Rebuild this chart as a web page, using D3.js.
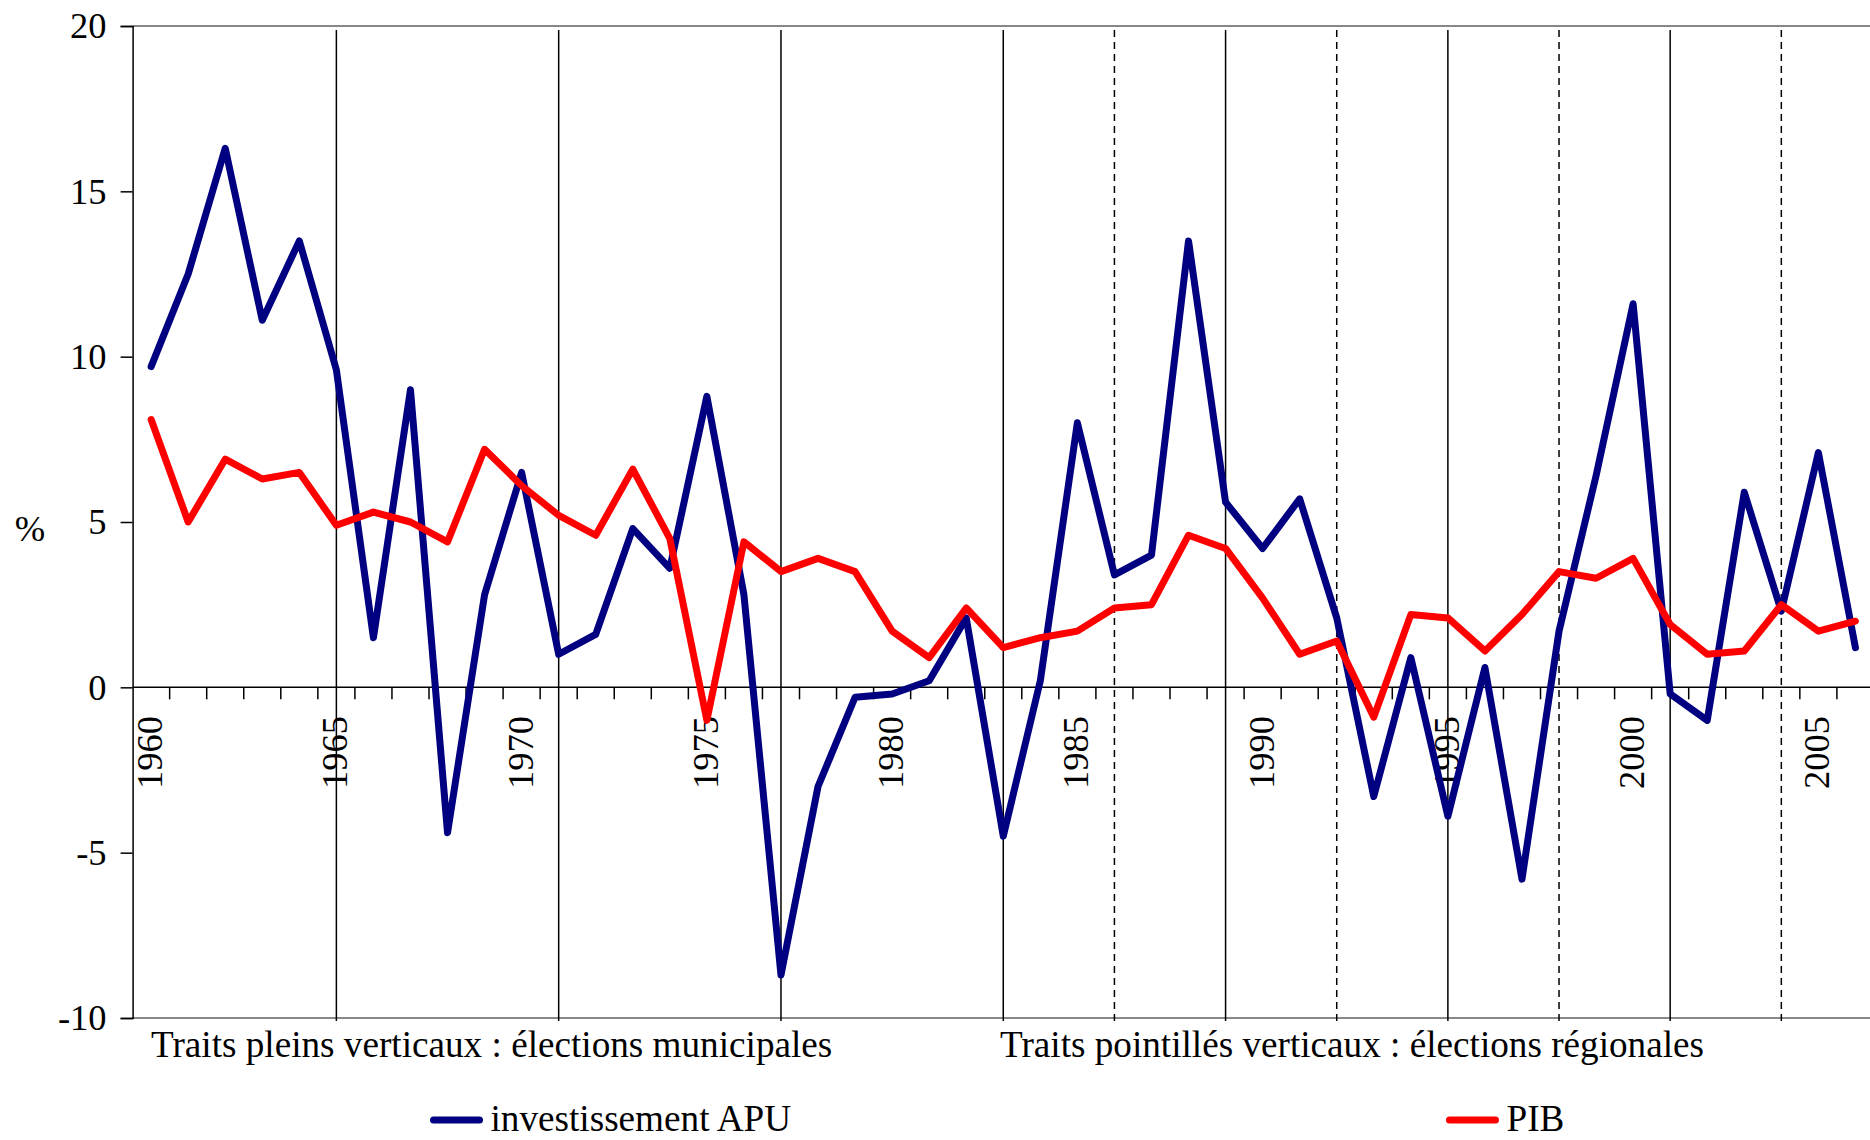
<!DOCTYPE html>
<html>
<head>
<meta charset="utf-8">
<script src="https://cdn.jsdelivr.net/npm/d3@7"></script>
<style>
    body { margin: 0; background: white; }
    svg text { font-family: "Liberation Serif", "Times New Roman", serif; fill: black; }
</style>
</head>
<body>
<div id="chart"></div>
<script>
// Years on the x axis (one category per year).
const years = [1960, 1961, 1962, 1963, 1964, 1965, 1966, 1967, 1968, 1969,
    1970, 1971, 1972, 1973, 1974, 1975, 1976, 1977, 1978, 1979,
    1980, 1981, 1982, 1983, 1984, 1985, 1986, 1987, 1988, 1989,
    1990, 1991, 1992, 1993, 1994, 1995, 1996, 1997, 1998, 1999,
    2000, 2001, 2002, 2003, 2004, 2005, 2006]

// Growth rates, in %.
const investissementAPU = [9.7, 12.5, 16.3, 11.1, 13.5, 9.6, 1.5, 9.0, -4.4, 2.8,
    6.5, 1.0, 1.6, 4.8, 3.6, 8.8, 2.8, -8.7, -3.0, -0.3,
    -0.2, 0.2, 2.1, -4.5, 0.2, 8.0, 3.4, 4.0, 13.5, 5.6,
    4.2, 5.7, 2.1, -3.3, 0.9, -3.9, 0.6, -5.8, 1.7, 6.4,
    11.6, -0.2, -1.0, 5.9, 2.3, 7.1, 1.2]

const pib = [8.1, 5.0, 6.9, 6.3, 6.5, 4.9, 5.3, 5.0, 4.4, 7.2,
    6.1, 5.2, 4.6, 6.6, 4.5, -1.0, 4.4, 3.5, 3.9, 3.5,
    1.7, 0.9, 2.4, 1.2, 1.5, 1.7, 2.4, 2.5, 4.6, 4.2,
    2.7, 1.0, 1.4, -0.9, 2.2, 2.1, 1.1, 2.2, 3.5, 3.3,
    3.9, 1.9, 1.0, 1.1, 2.5, 1.7, 2.0]

// Election years: solid lines = municipales, dashed = régionales.
const municipales = [1965, 1971, 1977, 1983, 1989, 1995, 2001]
const regionales = [1986, 1992, 1998, 2004]

const yTicks = [-10, -5, 0, 5, 10, 15, 20]
const yearLabels = [1960, 1965, 1970, 1975, 1980, 1985, 1990, 1995, 2000, 2005]

const seriesNames = ['investissement APU', 'PIB']
const seriesColors = ['#000080', '#ff0000']

class ElectionChart {
    constructor(_config) {
        this.config = {
            parentElement: _config.parentElement,
            containerWidth: _config.containerWidth,
            containerHeight: _config.containerHeight,
            plotLeft: 132.6,
            plotTop: 26,
            plotBottom: 1018,
            step: 37.05,
            fontSize: 36.5,
            noteFontSize: 37.2
        }
        this.initVis()
    }

    initVis() {
        let vis = this
        let c = vis.config

        vis.svg = d3.select(c.parentElement)
            .append('svg')
            .attr('width', c.containerWidth)
            .attr('height', c.containerHeight)

        vis.xScale = d3.scaleBand()
            .domain(years)
            .range([c.plotLeft, c.plotLeft + c.step * years.length])
            .padding(0)

        vis.yScale = d3.scaleLinear()
            .domain([-10, 20])
            .range([c.plotBottom, c.plotTop])

        vis.renderVis()
    }

    renderVis() {
        let vis = this
        let c = vis.config
        let x = vis.xScale
        let y = vis.yScale
        let cx = d => x(d) + x.bandwidth() / 2
        let right = c.containerWidth

        // Grey top and bottom border of the plot area.
        vis.svg.selectAll('.border')
            .data([20, -10])
            .join('line')
            .attr('class', 'border')
            .attr('x1', c.plotLeft)
            .attr('x2', right)
            .attr('y1', d => y(d))
            .attr('y2', d => y(d))
            .attr('stroke', '#888')
            .attr('stroke-width', 2)

        // Year labels (rotated) under the zero line.
        vis.svg.selectAll('.year-label')
            .data(yearLabels)
            .join('text')
            .attr('class', 'year-label')
            .attr('transform', d => `translate(${cx(d) - 1.5}, 716) rotate(-90)`)
            .attr('text-anchor', 'end')
            .attr('dy', '0.34em')
            .style('font-size', c.fontSize + 'px')
            .text(d => d)

        // Election vertical lines.
        vis.svg.selectAll('.muni')
            .data(municipales)
            .join('line')
            .attr('class', 'muni')
            .attr('x1', d => cx(d))
            .attr('x2', d => cx(d))
            .attr('y1', 30)
            .attr('y2', 1021)
            .attr('stroke', 'black')
            .attr('stroke-width', 1.5)

        vis.svg.selectAll('.regio')
            .data(regionales)
            .join('line')
            .attr('class', 'regio')
            .attr('x1', d => cx(d))
            .attr('x2', d => cx(d))
            .attr('y1', 30)
            .attr('y2', 1021)
            .attr('stroke', 'black')
            .attr('stroke-width', 1.5)
            .attr('stroke-dasharray', '7,5')

        // Zero line with ticks at category boundaries.
        vis.svg.append('line')
            .attr('x1', c.plotLeft)
            .attr('x2', right)
            .attr('y1', y(0))
            .attr('y2', y(0))
            .attr('stroke', 'black')
            .attr('stroke-width', 1.5)

        vis.svg.selectAll('.xtick')
            .data(years.slice(1))
            .join('line')
            .attr('class', 'xtick')
            .attr('x1', d => x(d))
            .attr('x2', d => x(d))
            .attr('y1', y(0))
            .attr('y2', y(0) + 12)
            .attr('stroke', 'black')
            .attr('stroke-width', 1.5)

        // Y axis.
        let yAxis = d3.axisLeft(y)
            .tickValues(yTicks)
            .tickSize(12)
            .tickPadding(14)
            .tickFormat(d => d)

        let yAxisG = vis.svg.append('g')
            .attr('transform', `translate(${c.plotLeft}, 0)`)
            .call(yAxis)
        yAxisG.select('.domain').attr('stroke', 'black').attr('stroke-width', 1.5)
        yAxisG.selectAll('.tick line').attr('stroke', 'black').attr('stroke-width', 1.5)
        yAxisG.selectAll('.tick text')
            .style('font-size', c.fontSize + 'px')
            .style('font-family', '"Liberation Serif", "Times New Roman", serif')
            .attr('fill', 'black')

        vis.svg.append('text')
            .attr('x', 30)
            .attr('y', 541)
            .attr('text-anchor', 'middle')
            .style('font-size', c.fontSize + 'px')
            .text('%')

        // Data lines.
        let line = d3.line()
            .x((d, i) => cx(years[i]))
            .y(d => y(d))

        vis.svg.selectAll('.series')
            .data([investissementAPU, pib])
            .join('path')
            .attr('class', 'series')
            .attr('d', line)
            .attr('fill', 'none')
            .attr('stroke', (d, i) => seriesColors[i])
            .attr('stroke-width', 7)
            .attr('stroke-linejoin', 'round')
            .attr('stroke-linecap', 'round')

        // Notes under the chart.
        vis.svg.append('text')
            .attr('x', 151)
            .attr('y', 1057)
            .style('font-size', c.noteFontSize + 'px')
            .text('Traits pleins verticaux : élections municipales')

        vis.svg.append('text')
            .attr('x', 1000)
            .attr('y', 1057)
            .style('font-size', c.noteFontSize + 'px')
            .text('Traits pointillés verticaux : élections régionales')

        // Legend (kept just inside the bottom edge).
        let legendX = [433.5, 1449.5]
        let legend = vis.svg.selectAll('.legend')
            .data(seriesNames)
            .join('g')
            .attr('class', 'legend')
            .attr('transform', (d, i) => `translate(${legendX[i]}, 1120)`)

        legend.append('line')
            .attr('x1', 0)
            .attr('x2', 46)
            .attr('stroke', (d, i) => seriesColors[i])
            .attr('stroke-width', 7)
            .attr('stroke-linecap', 'round')

        legend.append('text')
            .attr('x', 57)
            .attr('y', 11)
            .style('font-size', c.noteFontSize + 'px')
            .text(d => d)
    }
}

new ElectionChart({parentElement: '#chart', containerWidth: 1870, containerHeight: 1140})
</script>
</body>
</html>
